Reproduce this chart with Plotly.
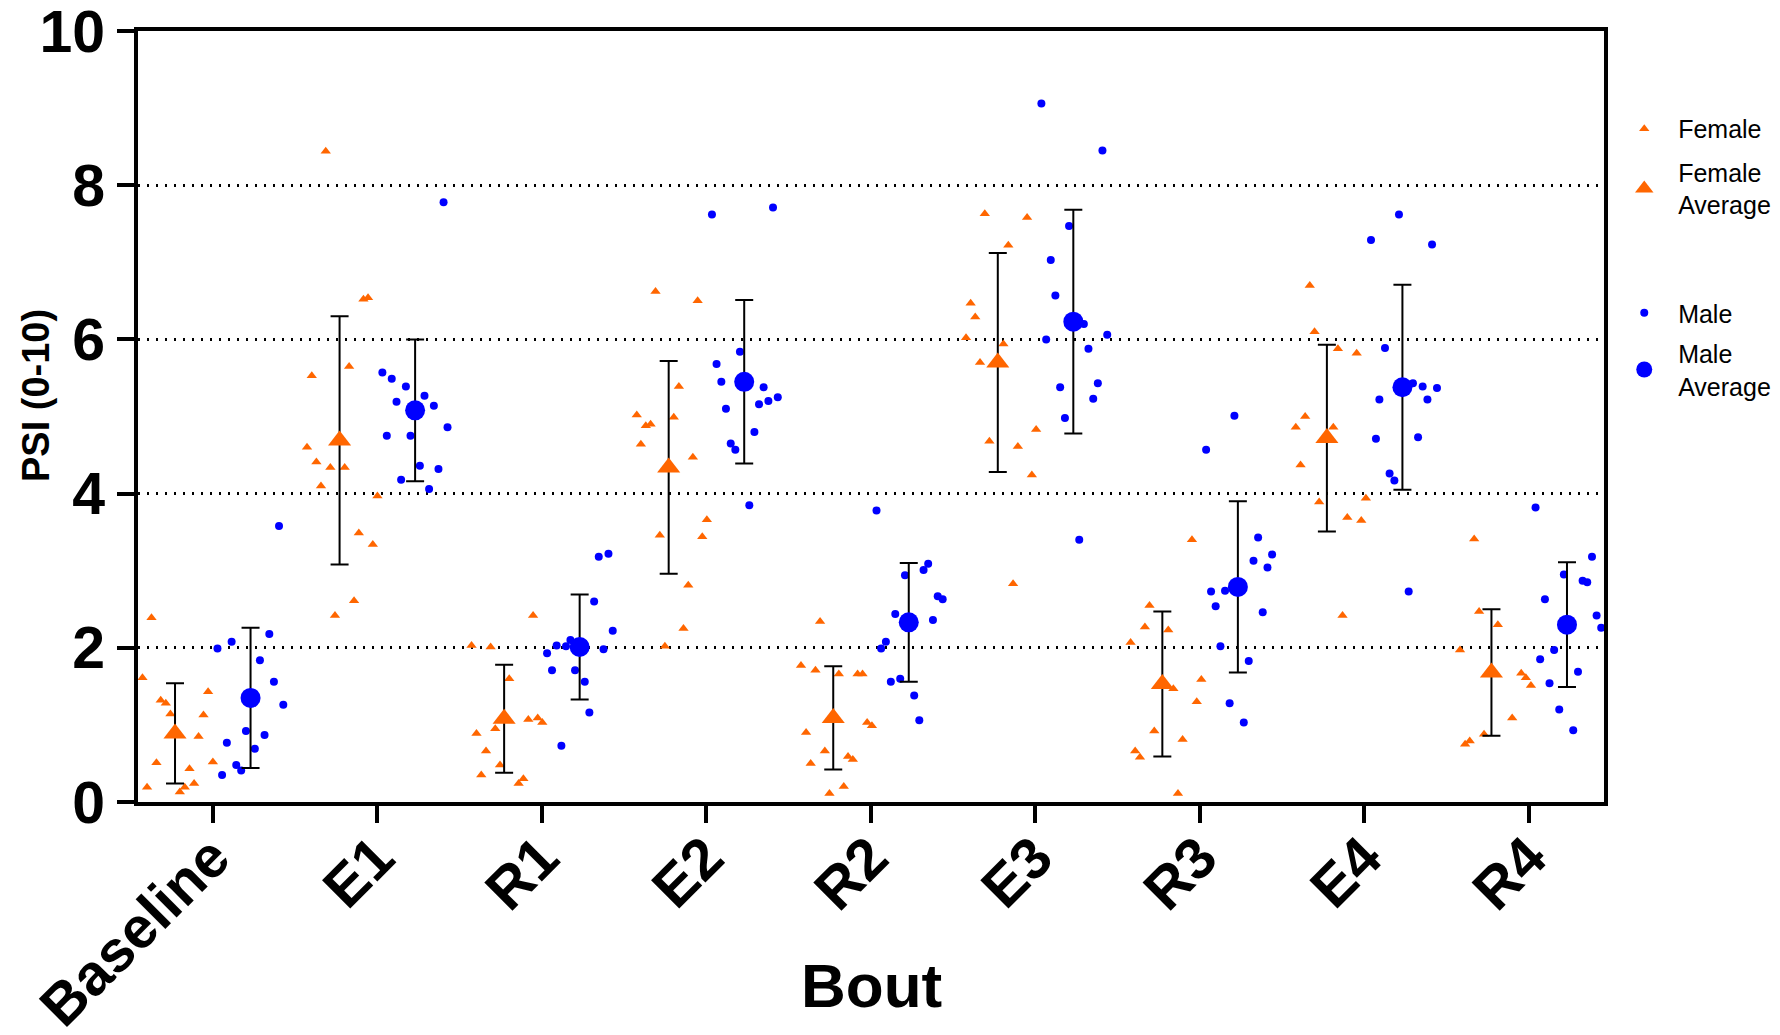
import plotly.graph_objects as go

categories = ["Baseline", "E1", "R1", "E2", "R2", "E3", "R3", "E4", "R4"]

female_values = [
    [2.39, 1.61, 1.32, 1.28, 1.14, 1.43, 1.13, 0.85, 0.51, 0.43, 0.52, 0.24, 0.19, 0.13, 0.19],
    [8.44, 6.52, 6.54, 5.53, 5.65, 4.60, 4.41, 4.34, 4.34, 4.10, 3.97, 3.49, 3.34, 2.61, 2.42],
    [2.03, 2.01, 2.42, 1.60, 0.95, 0.89, 1.07, 1.09, 1.03, 0.66, 0.48, 0.35, 0.30, 0.24],
    [6.62, 6.50, 5.39, 5.02, 4.99, 4.88, 4.90, 4.64, 4.47, 3.66, 3.46, 3.44, 2.81, 2.25, 2.02],
    [2.34, 1.77, 1.71, 1.66, 1.66, 1.66, 0.90, 1.03, 0.99, 0.66, 0.59, 0.55, 0.50, 0.20, 0.11],
    [7.63, 7.58, 7.22, 6.47, 6.29, 6.02, 5.94, 5.70, 4.83, 4.68, 4.61, 4.24, 2.83],
    [3.40, 2.55, 2.27, 2.23, 2.07, 1.47, 1.59, 1.30, 0.92, 0.81, 0.66, 0.58, 0.11],
    [6.70, 6.10, 5.88, 5.82, 5.00, 4.86, 4.86, 4.37, 3.89, 3.94, 3.69, 3.65, 2.42],
    [3.41, 2.47, 2.30, 1.97, 1.67, 1.61, 1.51, 1.09, 0.88, 0.75, 0.79],
]
female_jitter = [
    [-0.371, -0.426, -0.315, -0.284, -0.256, -0.027, -0.055, -0.085, -0.341, -0.140, 0.002, -0.112, -0.398, -0.199, -0.169],
    [-0.312, -0.083, -0.055, -0.397, -0.170, -0.426, -0.369, -0.284, -0.197, -0.341, 0.002, -0.111, -0.026, -0.140, -0.256],
    [-0.426, -0.310, -0.052, -0.197, -0.282, -0.396, -0.081, -0.024, 0.004, -0.338, -0.253, -0.367, -0.111, -0.140],
    [-0.308, -0.052, -0.166, -0.422, -0.197, -0.367, -0.338, -0.397, -0.081, 0.004, -0.282, -0.024, -0.109, -0.138, -0.251],
    [-0.308, -0.424, -0.336, -0.194, -0.080, -0.050, -0.393, -0.022, 0.007, -0.279, -0.138, -0.109, -0.365, -0.164, -0.251],
    [-0.307, -0.050, -0.164, -0.393, -0.365, -0.421, -0.194, -0.336, 0.005, -0.279, -0.106, -0.021, -0.135],
    [-0.048, -0.306, -0.334, -0.192, -0.421, -0.161, 0.009, -0.019, -0.277, -0.105, -0.393, -0.364, -0.133],
    [-0.332, -0.303, -0.161, -0.047, -0.360, -0.417, -0.189, -0.388, -0.275, 0.009, -0.104, -0.019, -0.133],
    [-0.333, -0.303, -0.189, -0.419, -0.047, -0.019, 0.012, -0.102, -0.273, -0.388, -0.360],
]
male_values = [
    [1.99, 2.08, 2.18, 1.84, 1.56, 1.26, 3.58, 0.92, 0.87, 0.77, 0.69, 0.48, 0.41, 0.35],
    [7.78, 5.57, 5.49, 5.39, 5.27, 5.19, 5.14, 4.86, 4.75, 4.75, 4.36, 4.32, 4.18, 4.06],
    [3.18, 3.22, 2.60, 2.22, 2.03, 2.02, 2.10, 1.93, 1.98, 1.71, 1.71, 1.56, 1.16, 0.73],
    [7.62, 5.84, 5.68, 5.45, 5.10, 4.80, 5.16, 4.65, 4.57, 3.85, 7.71, 5.38, 5.20, 5.25],
    [3.78, 3.09, 3.01, 2.94, 2.67, 2.63, 2.44, 2.36, 2.08, 1.99, 1.60, 1.56, 1.38, 1.06],
    [9.06, 7.47, 7.03, 6.57, 6.00, 5.38, 4.98, 8.45, 6.20, 6.06, 5.88, 5.43, 5.23, 3.40],
    [5.01, 4.57, 3.43, 3.21, 3.13, 3.04, 2.73, 2.74, 2.54, 2.46, 2.02, 1.83, 1.28, 1.03],
    [7.29, 5.22, 4.71, 7.62, 7.23, 5.89, 5.43, 5.39, 5.37, 5.22, 4.73, 4.26, 4.17, 2.73],
    [3.82, 3.18, 2.95, 2.87, 2.85, 2.63, 2.42, 2.26, 1.97, 1.85, 1.69, 1.54, 1.20, 0.93],
]
male_jitter = [
    [0.030, 0.116, 0.345, 0.288, 0.373, 0.430, 0.404, 0.203, 0.316, 0.087, 0.257, 0.144, 0.174, 0.058],
    [0.404, 0.032, 0.089, 0.175, 0.288, 0.118, 0.345, 0.428, 0.059, 0.203, 0.260, 0.373, 0.146, 0.316],
    [0.347, 0.406, 0.319, 0.432, 0.091, 0.148, 0.175, 0.033, 0.376, 0.063, 0.203, 0.262, 0.290, 0.120],
    [0.035, 0.205, 0.063, 0.092, 0.120, 0.293, 0.321, 0.149, 0.177, 0.262, 0.406, 0.349, 0.378, 0.435],
    [0.035, 0.349, 0.321, 0.208, 0.407, 0.437, 0.149, 0.378, 0.092, 0.063, 0.179, 0.122, 0.264, 0.295],
    [0.037, 0.205, 0.094, 0.122, 0.066, 0.151, 0.180, 0.408, 0.295, 0.437, 0.323, 0.380, 0.352, 0.267],
    [0.210, 0.038, 0.354, 0.439, 0.326, 0.411, 0.068, 0.153, 0.096, 0.382, 0.125, 0.297, 0.181, 0.267],
    [0.040, 0.091, 0.070, 0.210, 0.411, 0.125, 0.295, 0.354, 0.441, 0.383, 0.326, 0.153, 0.182, 0.269],
    [0.040, 0.383, 0.212, 0.326, 0.354, 0.097, 0.411, 0.439, 0.153, 0.068, 0.298, 0.125, 0.184, 0.269],
]

female_mean = [0.89, 4.69, 1.08, 4.34, 1.09, 5.70, 1.53, 4.72, 1.68]
female_sd = [0.65, 1.61, 0.70, 1.38, 0.67, 1.42, 0.94, 1.21, 0.82]
male_mean = [1.35, 5.08, 2.01, 5.45, 2.33, 6.23, 2.79, 5.38, 2.30]
male_sd = [0.91, 0.92, 0.68, 1.06, 0.77, 1.45, 1.11, 1.33, 0.81]

y_ticks = [0, 2, 4, 6, 8, 10]

ORANGE = "#FF6600"
BLUE = "#0000FF"
F_OFF = -0.228
M_OFF = 0.231
SP = "\u00a0\u00a0"

fx, fy, mx, my = [], [], [], []
for i in range(len(categories)):
    for v, j in zip(female_values[i], female_jitter[i]):
        fx.append(i + j)
        fy.append(v)
    for v, j in zip(male_values[i], male_jitter[i]):
        mx.append(i + j)
        my.append(v)

idx = list(range(len(categories)))

fig = go.Figure()
fig.add_trace(go.Scatter(
    x=fx, y=fy, mode="markers", name=SP + "Female", legendgroup="f1", legend="legend",
    marker=dict(symbol="triangle-up", size=9, color=ORANGE)))
fig.add_trace(go.Scatter(
    x=[i + F_OFF for i in idx], y=female_mean, mode="markers",
    name=SP + "Female<br>" + SP + "Average",
    legendgroup="f2", legend="legend",
    marker=dict(symbol="triangle-up", size=20, color=ORANGE),
    error_y=dict(type="data", array=female_sd, color="black", thickness=2, width=9)))
fig.add_trace(go.Scatter(
    x=mx, y=my, mode="markers", name=SP + "Male", legendgroup="m1", legend="legend2",
    marker=dict(symbol="circle", size=8, color=BLUE)))
fig.add_trace(go.Scatter(
    x=[i + M_OFF for i in idx], y=male_mean, mode="markers",
    name=SP + "Male<br>" + SP + "Average",
    legendgroup="m2", legend="legend2",
    marker=dict(symbol="circle", size=20, color=BLUE),
    error_y=dict(type="data", array=male_sd, color="black", thickness=2, width=9)))

legend_common = dict(
    xref="container", yref="container", xanchor="left", yanchor="top",
    font=dict(size=25, family="Liberation Sans", color="black"),
    itemsizing="trace", traceorder="grouped",
    bgcolor="rgba(0,0,0,0)")

fig.update_layout(
    width=1780, height=1035,
    margin=dict(l=138, r=176, t=31, b=233),
    paper_bgcolor="white", plot_bgcolor="white",
    font=dict(family="Liberation Sans", color="black"),
    showlegend=True,
    legend=dict(x=0.9125, y=0.8976, tracegroupgap=8, **legend_common),
    legend2=dict(x=0.9125, y=0.7198, tracegroupgap=5, **legend_common),
    xaxis=dict(
        range=[-0.453, 8.456], tickmode="array", tickvals=idx, ticktext=categories,
        tickangle=-45, ticks="outside", ticklen=17, tickwidth=4, tickcolor="black",
        tickfont=dict(size=58, family="Liberation Sans", weight="bold", color="black"),
        ticklabelstandoff=-23,
        showline=True, linewidth=4, linecolor="black", mirror=True,
        showgrid=False, zeroline=False, automargin=False),
    yaxis=dict(
        range=[0, 10], tickmode="array", tickvals=y_ticks,
        ticks="outside", ticklen=17, tickwidth=4, tickcolor="black",
        tickfont=dict(size=59, family="Liberation Sans", weight="bold", color="black"),
        ticklabeloverflow="allow",
        showline=True, linewidth=4, linecolor="black", mirror=True,
        showgrid=True, gridcolor="black", gridwidth=2.5, griddash="2px,7px",
        zeroline=False, automargin=False),
    annotations=[
        dict(text="Bout", x=0.5, y=-0.238, xref="paper", yref="paper",
             xanchor="center", yanchor="middle", showarrow=False,
             font=dict(size=62, family="Liberation Sans", weight="bold", color="black")),
        dict(text="PSI (0-10)", x=-0.07, y=0.527, xref="paper", yref="paper",
             xanchor="center", yanchor="middle", showarrow=False, textangle=-90,
             font=dict(size=38, family="Liberation Sans", weight="bold", color="black")),
    ],
)

fig.write_html("out.html")
